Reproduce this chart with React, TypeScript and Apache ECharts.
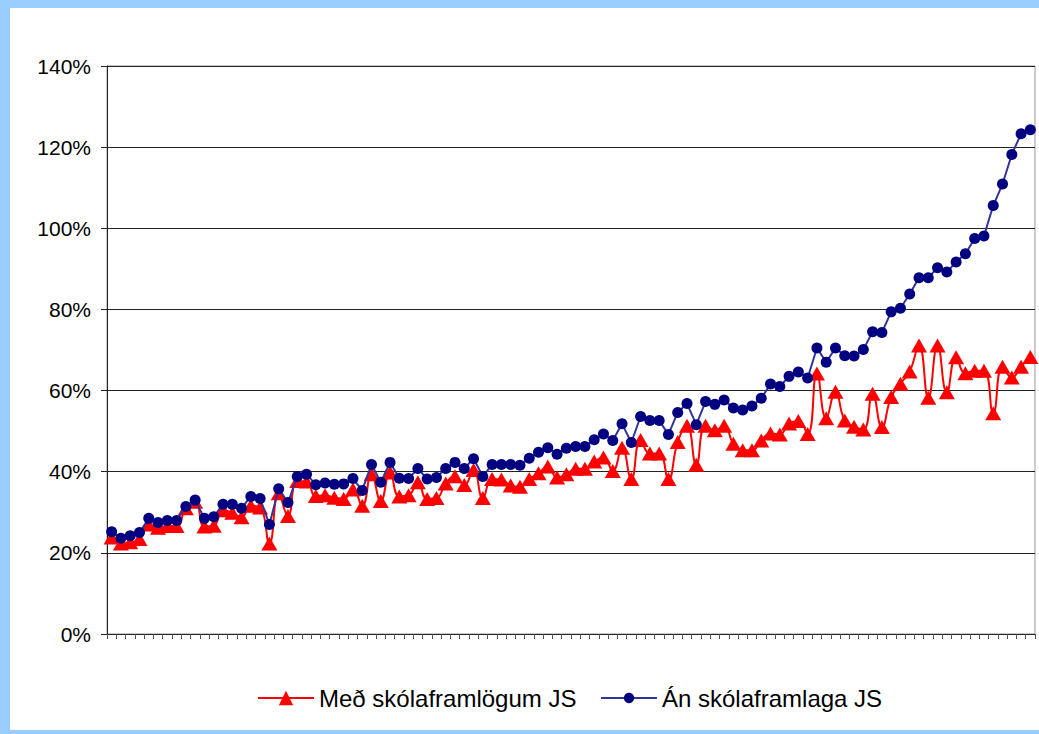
import React, { useEffect, useRef } from "react";
import * as echarts from "echarts";

const redName = "Með skólaframlögum JS";
const blueName = "Án skólaframlaga JS";

const withContrib = [
  23.8, 22.3, 22.6, 23.4, 27.0, 26.2, 26.6, 26.6, 31.0, 32.6,
  26.5, 26.7, 30.5, 29.9, 28.8, 31.6, 31.2, 22.3, 34.7, 29.1,
  37.7, 37.6, 34.0, 34.2, 33.6, 33.3, 35.6, 31.6, 39.4, 32.8,
  39.8, 33.9, 34.2, 37.4, 33.3, 33.5, 37.1, 38.9, 36.7, 40.4,
  33.5, 38.2, 38.1, 36.6, 36.3, 38.2, 39.6, 41.3, 38.6, 39.4,
  40.7, 40.7, 42.5, 43.5, 40.2, 45.9, 38.2, 47.8, 44.5, 44.5,
  38.2, 47.3, 51.3, 41.7, 51.3, 50.2, 51.3, 46.9, 45.3, 45.3,
  47.7, 49.4, 49.2, 51.9, 52.5, 49.3, 64.2, 53.2, 59.7, 52.6,
  51.1, 50.4, 59.2, 51.0, 58.4, 61.7, 64.7, 71.1, 58.2, 71.1,
  59.6, 68.2, 64.3, 64.9, 64.9, 54.4, 65.9, 63.2, 65.9, 68.3,
];

const withoutContrib = [
  25.2, 23.6, 24.2, 25.0, 28.5, 27.5, 28.0, 28.0, 31.4, 33.0,
  28.5, 28.9, 32.0, 32.0, 31.0, 33.9, 33.4, 27.0, 35.8, 32.4,
  38.8, 39.4, 36.8, 37.2, 36.9, 37.0, 38.3, 35.4, 41.8, 37.4,
  42.3, 38.4, 38.3, 40.8, 38.2, 38.6, 40.8, 42.3, 40.8, 43.2,
  38.8, 41.8, 41.8, 41.8, 41.6, 43.3, 44.8, 45.9, 44.3, 45.8,
  46.2, 46.2, 47.9, 49.3, 47.7, 51.8, 47.2, 53.6, 52.6, 52.6,
  49.2, 54.6, 56.8, 51.6, 57.3, 56.6, 57.7, 55.7, 55.2, 56.2,
  58.1, 61.6, 61.0, 63.5, 64.6, 63.1, 70.5, 67.0, 70.5, 68.6,
  68.5, 70.1, 74.5, 74.3, 79.4, 80.3, 83.8, 87.8, 87.8, 90.3,
  89.2, 91.7, 93.7, 97.5, 98.1, 105.6, 110.9, 118.2, 123.3, 124.3,
];

const categories = withoutContrib.map((_, i) => String(i + 1));

const yMin = 0;
const yMax = 140;
const yStep = 20;

const FONT = "'Liberation Sans', Arial, sans-serif";
const FRAME = "#99CCFF";

export default function App() {
  const ref = useRef<HTMLDivElement>(null);

  useEffect(() => {
    if (!ref.current) return;
    const chart = echarts.init(ref.current, null, { renderer: "svg" });
    chart.setOption({
      animation: false,
      backgroundColor: "#ffffff",
      textStyle: { fontFamily: FONT },
      graphic: [
        { type: "rect", left: 0, top: 0, shape: { width: 1039, height: 8 }, style: { fill: FRAME }, silent: true },
        { type: "rect", left: 0, top: 0, shape: { width: 10, height: 734 }, style: { fill: FRAME }, silent: true },
        { type: "rect", left: 0, top: 730, shape: { width: 1039, height: 4 }, style: { fill: FRAME }, silent: true },
      ],
      grid: {
        left: 107,
        right: 4,
        top: 66,
        bottom: 100,
        show: true,
        borderColor: "#999999",
        borderWidth: 1,
        backgroundColor: "#ffffff",
      },
      legend: [
        {
          data: [redName],
          left: 252,
          top: 681,
          itemWidth: 56,
          itemHeight: 18,
          itemGap: 8,
          textStyle: { fontSize: 24, color: "#000", fontFamily: FONT },
        },
        {
          data: [blueName],
          left: 595,
          top: 681,
          itemWidth: 56,
          itemHeight: 13,
          itemGap: 8,
          textStyle: { fontSize: 24, color: "#000", fontFamily: FONT },
        },
      ],
      xAxis: {
        type: "category",
        data: categories,
        boundaryGap: true,
        axisLine: { lineStyle: { color: "#222", width: 1 } },
        axisTick: { show: true, length: 5, interval: 0, lineStyle: { color: "#555" } },
        axisLabel: { show: false },
        splitLine: { show: false },
      },
      yAxis: {
        type: "value",
        min: yMin,
        max: yMax,
        interval: yStep,
        axisLine: { show: true, lineStyle: { color: "#222", width: 1 } },
        axisTick: { show: true, length: 6, lineStyle: { color: "#222" } },
        axisLabel: {
          formatter: "{value}%",
          fontSize: 21,
          color: "#000",
          margin: 16,
          fontFamily: FONT,
        },
        splitLine: { show: true, lineStyle: { color: "#222", width: 1 } },
      },
      series: [
        {
          name: redName,
          type: "line",
          data: withContrib,
          smooth: 0.5,
          showAllSymbol: true,
          symbol: "triangle",
          symbolSize: [16, 14],
          itemStyle: { color: "#FF0000" },
          lineStyle: { color: "#FF0000", width: 2 },
          z: 2,
        },
        {
          name: blueName,
          type: "line",
          data: withoutContrib,
          showAllSymbol: true,
          symbol: "circle",
          symbolSize: 11,
          itemStyle: { color: "#000080" },
          lineStyle: { color: "#333399", width: 2 },
          z: 3,
        },
      ],
    });
    return () => chart.dispose();
  }, []);

  return (
    <div
      ref={ref}
      style={{ position: "absolute", left: 0, top: 0, width: 1039, height: 734 }}
    />
  );
}
